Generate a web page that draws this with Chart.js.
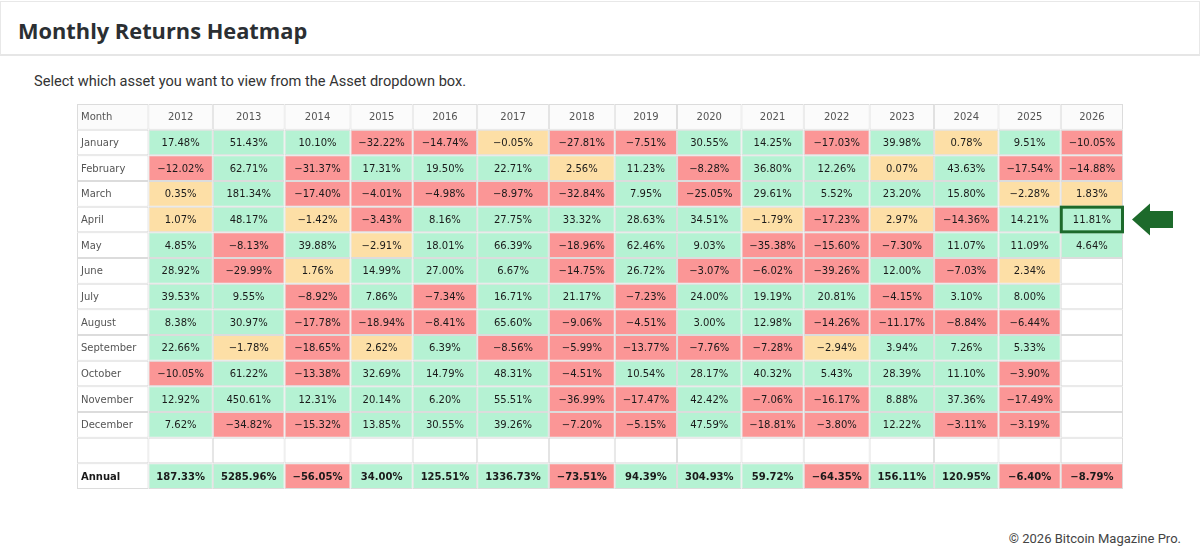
<!DOCTYPE html>
<html><head><meta charset="utf-8">
<script src="https://cdn.jsdelivr.net/npm/chart.js@4.4.1/dist/chart.umd.min.js"></script>
<style>
html,body{margin:0;padding:0;background:#fff;width:1200px;height:552px;overflow:hidden;}
#top{position:absolute;left:0;top:1px;width:1198px;height:52px;border:1px solid #e8e8e8;border-bottom:2px solid #e6e6e6;}
#title{position:absolute;left:18px;top:20px;font:700 21.8px/22px "Open Sans",sans-serif;color:#2b2f33;white-space:nowrap;}
#sub{position:absolute;left:34px;top:74px;font:14.6px/15px Roboto,sans-serif;color:#333;white-space:nowrap;}
#foot{position:absolute;right:19px;top:532px;font:13px/14px Roboto,sans-serif;color:#444;white-space:nowrap;}
#wrap{position:absolute;left:0;top:96px;width:1200px;height:404px;}
</style></head>
<body>
<div id="top"></div>
<div id="title">Monthly Returns Heatmap</div>
<div id="sub">Select which asset you want to view from the Asset dropdown box.</div>
<div id="wrap"><canvas id="c"></canvas></div>
<div id="foot">© 2026 Bitcoin Magazine Pro.</div>
<script>
const months = ['January','February','March','April','May','June','July','August','September','October','November','December'];
const years = ['2012','2013','2014','2015','2016','2017','2018','2019','2020','2021','2022','2023','2024','2025','2026'];
const r2012 = [17.48, -12.02, 0.35, 1.07, 4.85, 28.92, 39.53, 8.38, 22.66, -10.05, 12.92, 7.62];
const r2013 = [51.43, 62.71, 181.34, 48.17, -8.13, -29.99, 9.55, 30.97, -1.78, 61.22, 450.61, -34.82];
const r2014 = [10.10, -31.37, -17.40, -1.42, 39.88, 1.76, -8.92, -17.78, -18.65, -13.38, 12.31, -15.32];
const r2015 = [-32.22, 17.31, -4.01, -3.43, -2.91, 14.99, 7.86, -18.94, 2.62, 32.69, 20.14, 13.85];
const r2016 = [-14.74, 19.50, -4.98, 8.16, 18.01, 27.00, -7.34, -8.41, 6.39, 14.79, 6.20, 30.55];
const r2017 = [-0.05, 22.71, -8.97, 27.75, 66.39, 6.67, 16.71, 65.60, -8.56, 48.31, 55.51, 39.26];
const r2018 = [-27.81, 2.56, -32.84, 33.32, -18.96, -14.75, 21.17, -9.06, -5.99, -4.51, -36.99, -7.20];
const r2019 = [-7.51, 11.23, 7.95, 28.63, 62.46, 26.72, -7.23, -4.51, -13.77, 10.54, -17.47, -5.15];
const r2020 = [30.55, -8.28, -25.05, 34.51, 9.03, -3.07, 24.00, 3.00, -7.76, 28.17, 42.42, 47.59];
const r2021 = [14.25, 36.80, 29.61, -1.79, -35.38, -6.02, 19.19, 12.98, -7.28, 40.32, -7.06, -18.81];
const r2022 = [-17.03, 12.26, 5.52, -17.23, -15.60, -39.26, 20.81, -14.26, -2.94, 5.43, -16.17, -3.80];
const r2023 = [39.98, 0.07, 23.20, 2.97, -7.30, 12.00, -4.15, -11.17, 3.94, 28.39, 8.88, 12.22];
const r2024 = [0.78, 43.63, 15.80, -14.36, 11.07, -7.03, 3.10, -8.84, 7.26, 11.10, 37.36, -3.11];
const r2025 = [9.51, -17.54, -2.28, 14.21, 11.09, 2.34, 8.00, -6.44, 5.33, -3.90, -17.49, -3.19];
const r2026 = [-10.05, -14.88, 1.83, 11.81, 4.64, null, null, null, null, null, null, null];
const annual = [187.33, 5285.96, -56.05, 34.00, 125.51, 1336.73, -73.51, 94.39, 304.93, 59.72, -64.35, 156.11, 120.95, -6.40, -8.79];
const highlight = {year: '2026', month: 'April'};

const yearly = [r2012, r2013, r2014, r2015, r2016, r2017, r2018, r2019, r2020, r2021, r2022, r2023, r2024, r2025, r2026];
const rowLabels = ['Month'].concat(months, [''], ['Annual']);
const NROW = rowLabels.length;
const ANN = NROW - 1, BLANK = NROW - 2;

function fmt(v){ return (v < 0 ? '\u2212' : '') + Math.abs(v).toFixed(2) + '%'; }
function cellValue(c, r){
  if (c === 0 || r === 0 || r === BLANK) return null;
  if (r === ANN) return annual[c-1];
  const v = yearly[c-1][r-1];
  return v === undefined ? null : v;
}
function cellText(c, r){
  if (c === 0) return rowLabels[r];
  if (r === 0) return years[c-1];
  const v = cellValue(c, r);
  return v === null ? '' : fmt(v);
}
const GREEN = '#b5f2d3', RED = '#fb9696', YELLOW = '#fddfa6';
function cellColor(c, r){
  if (r === 0) return '#fbfbfb';
  const v = cellValue(c, r);
  if (v === null) return '#ffffff';
  if (v >= 3) return GREEN;
  if (v <= -3) return RED;
  return YELLOW;
}

// column widths from text content (like an auto-layout html table)
const FONT = '"DejaVu Sans", Verdana, sans-serif';
const mctx = document.createElement('canvas').getContext('2d');
function tw(t, bold){ mctx.font = (bold ? 'bold ' : '') + '10px ' + FONT; return mctx.measureText(t).width; }
const bounds = [0];
for (let c = 0; c <= years.length; c++){
  let w = 0;
  for (let r = 0; r < NROW; r++) w = Math.max(w, tw(cellText(c, r), r === ANN));
  bounds.push(bounds[c] + w + 13);
}

const datasets = [];
for (let c = 0; c <= years.length; c++){
  datasets.push({
    label: c === 0 ? 'Month' : years[c-1],
    data: rowLabels.map(() => [bounds[c], bounds[c+1]]),
    backgroundColor: ctx => cellColor(c, ctx.dataIndex),
    borderColor: '#dcdcdc',
    borderWidth: 1,
    borderSkipped: false,
    inflateAmount: 0,
    grouped: false,
    barPercentage: 1,
    categoryPercentage: 1
  });
}

const textPlugin = {
  id: 'cellText',
  afterDatasetsDraw(chart){
    const ctx = chart.ctx;
    ctx.save();
    ctx.textBaseline = 'middle';
    chart.data.datasets.forEach((ds, c) => {
      const meta = chart.getDatasetMeta(c);
      meta.data.forEach((el, r) => {
        const t = cellText(c, r);
        if (!t) return;
        const left = Math.min(el.x, el.base), right = Math.max(el.x, el.base);
        const bold = r === ANN;
        ctx.font = (bold ? 'bold ' : '') + '10px ' + FONT;
        if (c === 0){
          ctx.fillStyle = bold ? '#1a1a1a' : '#555';
          ctx.textAlign = 'left';
          ctx.fillText(t, left + 4, el.y + 1);
        } else {
          ctx.fillStyle = r === 0 ? '#555' : '#1a1a1a';
          ctx.textAlign = 'center';
          ctx.fillText(t, (left + right) / 2, el.y + 1);
        }
      });
    });
    // highlight and arrow
    const hc = years.indexOf(highlight.year) + 1;
    const hr = rowLabels.indexOf(highlight.month);
    const el = chart.getDatasetMeta(hc).data[hr];
    if (el){
      const left = Math.min(el.x, el.base), right = Math.max(el.x, el.base);
      const top = el.y - el.height / 2, h = el.height;
      ctx.strokeStyle = '#1d6a2b';
      ctx.lineWidth = 3;
      ctx.strokeRect(left + 0.5, top + 0.5, right - left - 1, h - 1);
      const cy = el.y;
      const tip = right + 9, neck = right + 27, tail = right + 50;
      ctx.fillStyle = '#1d6a2b';
      ctx.beginPath();
      ctx.moveTo(tip, cy);
      ctx.lineTo(neck, cy - 16);
      ctx.lineTo(neck, cy - 8.5);
      ctx.lineTo(tail, cy - 8.5);
      ctx.lineTo(tail, cy + 8.5);
      ctx.lineTo(neck, cy + 8.5);
      ctx.lineTo(neck, cy + 16);
      ctx.closePath();
      ctx.fill();
    }
    ctx.restore();
  }
};

new Chart(document.getElementById('c'), {
  type: 'bar',
  data: { labels: rowLabels, datasets },
  options: {
    indexAxis: 'y',
    responsive: true,
    maintainAspectRatio: false,
    animation: false,
    events: [],
    layout: { padding: { left: 77, right: 77, top: 8, bottom: 11 } },
    plugins: { legend: { display: false }, tooltip: { enabled: false }, title: { display: false } },
    scales: {
      x: { type: 'linear', min: 0, max: bounds[bounds.length - 1], display: false, offset: false },
      y: { type: 'category', display: false, offset: true }
    }
  },
  plugins: [textPlugin]
});
</script>
</body></html>
